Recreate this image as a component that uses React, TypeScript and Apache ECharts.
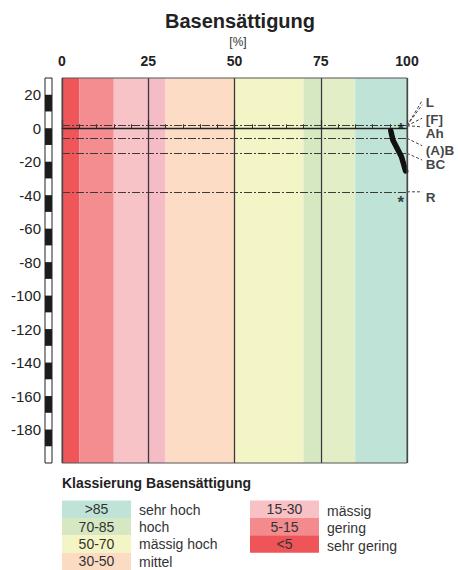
import React, { useEffect, useRef } from "react";
import * as echarts from "echarts";

const FONT = '"Liberation Sans", Arial, Helvetica, sans-serif';

// Saturation classes along the x axis (percent) and their fill colours
const bandFrom = [0, 5, 15, 25, 30, 50, 70, 75, 85];
const bandTo = [5, 15, 25, 30, 50, 70, 75, 85, 100];
const bandColors = [
  "#ee565a",
  "#f38d8f",
  "#f8c3c7",
  "#f6bcc6",
  "#fcdcc5",
  "#f4f5c6",
  "#d6e8c1",
  "#e2eec6",
  "#bfe3d7",
];

// Depth ruler: labelled ticks (cm); each one starts a black 10 cm segment
const depthTicks = [20, 0, -20, -40, -60, -80, -100, -120, -140, -160, -180];
const DEPTH_MIN = -200;
const DEPTH_MAX = 30;
const RULER_STEP = 10;

// Horizon boundaries (cm) and the soil surface
const boundaryDepths = [1.5, -6, -15, -38];
const surfaceDepth = 0;

// Base saturation profile
const profileSaturation = [95.3, 95.9, 98.4, 99.6];
const profileDepth = [-1.5, -7, -17, -25.5];

// Sample markers
const markerSaturation = [98.2, 98.2];
const markerDepth = [1.5, -42];

// Horizon names on the right
const horizonNames = ["L", "[F]", "Ah", "(A)B", "BC", "R"];
const horizonLabelDepth = [15.5, 5.2, -3, -13.4, -21.6, -41.5];
const LABEL_X = 105.3;

// Leader lines from the right edge (depth at x = 100) to the horizon names
const leaderFromDepth = [1.5, 1.5, 1.5, 1.5, -6, -15, -38];
const leaderToDepth = [16.5, 14, 6, 0.8, -10.5, -19, -38];
const LEADER_END_X = 104.4;

// Legend classes
const legendRanges = [">85", "70-85", "50-70", "30-50", "15-30", "5-15", "<5"];
const legendNames = ["sehr hoch", "hoch", "mässig hoch", "mittel", "mässig", "gering", "sehr gering"];
const legendColors = ["#bfe3d7", "#d5e8c1", "#f4f5c4", "#fcdbc3", "#f8c1c5", "#f38b8e", "#ee5458"];

function buildLegend() {
  const els: any[] = [];
  els.push({
    type: "text",
    x: 62,
    y: 483,
    style: {
      text: "Klassierung Basensättigung",
      font: `bold 14px ${FONT}`,
      fill: "#222",
      textVerticalAlign: "middle",
    },
  });
  legendRanges.forEach((r, i) => {
    const col = i < 4 ? 0 : 1;
    const row = col === 0 ? i : i - 4;
    const bx = col === 0 ? 62 : 250;
    const by = 500.5 + row * 17.4;
    els.push({
      type: "rect",
      shape: { x: bx, y: by, width: 69, height: 17.4 },
      style: { fill: legendColors[i] },
    });
    els.push({
      type: "text",
      x: bx + 34.5,
      y: by + 8.7,
      style: {
        text: r,
        font: `14px ${FONT}`,
        fill: "#333",
        textAlign: "center",
        textVerticalAlign: "middle",
      },
    });
    els.push({
      type: "text",
      x: bx + 77,
      y: by + 9 + (col === 1 ? 1.5 : 0),
      style: {
        text: legendNames[i],
        font: `14px ${FONT}`,
        fill: "#333",
        textVerticalAlign: "middle",
      },
    });
  });
  return els;
}

export default function App() {
  const ref = useRef<HTMLDivElement>(null);

  useEffect(() => {
    if (!ref.current) return;
    const chart = echarts.init(ref.current, undefined, { renderer: "svg" });

    const option: any = {
      animation: false,
      backgroundColor: "#ffffff",
      textStyle: { fontFamily: FONT },
      grid: [
        {
          left: 62,
          top: 78,
          width: 345,
          height: 385,
          show: true,
          backgroundColor: "transparent",
          borderColor: "#555",
          borderWidth: 1,
          z: 10,
        },
        {
          left: 45,
          top: 78,
          width: 7,
          height: 385,
          show: true,
          backgroundColor: "transparent",
          borderColor: "#222",
          borderWidth: 1,
          z: 10,
        },
      ],
      xAxis: [
        {
          type: "value",
          gridIndex: 0,
          position: "top",
          min: 0,
          max: 100,
          interval: 25,
          z: 3,
          axisLine: { show: true, lineStyle: { color: "#222", width: 1.2 } },
          axisTick: { show: true, length: 8, lineStyle: { color: "#222", width: 1.2 } },
          minorTick: { show: true, splitNumber: 5, length: 4, lineStyle: { color: "#333", width: 1 } },
          splitLine: { show: true, lineStyle: { color: "#3a3a3a", width: 1.3 } },
          axisLabel: {
            margin: 10,
            fontSize: 14,
            fontWeight: "bold",
            color: "#222",
            fontFamily: FONT,
          },
        },
        {
          type: "value",
          gridIndex: 1,
          min: 0,
          max: 1,
          show: false,
        },
      ],
      yAxis: [
        {
          type: "value",
          gridIndex: 0,
          min: DEPTH_MIN,
          max: DEPTH_MAX,
          axisLine: { show: false },
          axisTick: { show: false },
          axisLabel: { show: false },
          splitLine: { show: false },
        },
        {
          type: "value",
          gridIndex: 1,
          min: DEPTH_MIN,
          max: DEPTH_MAX,
          interval: 20,
          axisLine: { show: false },
          axisTick: { show: false },
          splitLine: { show: false },
          axisLabel: {
            margin: 4,
            fontSize: 15,
            color: "#222",
            fontFamily: FONT,
            formatter: (v: number) => (depthTicks.includes(v) ? String(v) : ""),
          },
        },
      ],
      graphic: [
        {
          type: "text",
          x: 240,
          y: 21,
          style: {
            text: "Basensättigung",
            font: `bold 20px ${FONT}`,
            fill: "#222",
            textAlign: "center",
            textVerticalAlign: "middle",
          },
        },
        {
          type: "text",
          x: 238,
          y: 41.5,
          style: {
            text: "[%]",
            font: `12px ${FONT}`,
            fill: "#333",
            textAlign: "center",
            textVerticalAlign: "middle",
          },
        },
        ...buildLegend(),
      ],
      series: [
        {
          type: "custom",
          name: "bands",
          xAxisIndex: 0,
          yAxisIndex: 0,
          z: 1,
          silent: true,
          data: bandFrom.map((f, i) => [f, bandTo[i]]),
          renderItem: (params: any, api: any) => {
            const p0 = api.coord([api.value(0), DEPTH_MAX]);
            const p1 = api.coord([api.value(1), DEPTH_MIN]);
            return {
              type: "rect",
              shape: { x: p0[0], y: p0[1], width: p1[0] - p0[0], height: p1[1] - p0[1] },
              style: { fill: bandColors[params.dataIndex], stroke: null },
            };
          },
        },
        {
          type: "custom",
          name: "ruler",
          xAxisIndex: 1,
          yAxisIndex: 1,
          z: 1,
          silent: true,
          data: depthTicks.map((t) => [0, t]),
          renderItem: (params: any, api: any) => {
            const top = api.value(1);
            const p0 = api.coord([0, top]);
            const p1 = api.coord([1, top - RULER_STEP]);
            return {
              type: "rect",
              shape: { x: p0[0], y: p0[1], width: p1[0] - p0[0], height: p1[1] - p0[1] },
              style: { fill: "#1c1c1c" },
            };
          },
        },
        {
          type: "line",
          name: "boundaries",
          xAxisIndex: 0,
          yAxisIndex: 0,
          z: 4,
          symbol: "none",
          silent: true,
          lineStyle: { width: 0 },
          data: [[0, surfaceDepth]],
          markLine: {
            silent: true,
            symbol: "none",
            label: { show: false },
            data: [
              ...boundaryDepths.map((d) => ({
                yAxis: d,
                lineStyle: { color: "#3a3a3a", width: 1, type: [8, 2, 2, 2] },
              })),
              { yAxis: surfaceDepth, lineStyle: { color: "#222", width: 1.4, type: "solid" } },
            ],
          },
        },
        {
          type: "custom",
          name: "leaders",
          xAxisIndex: 0,
          yAxisIndex: 0,
          z: 4,
          silent: true,
          data: leaderFromDepth.map((f, i) => [f, leaderToDepth[i]]),
          renderItem: (params: any, api: any) => {
            const a = api.coord([100, api.value(0)]);
            const b = api.coord([LEADER_END_X, api.value(1)]);
            return {
              type: "line",
              shape: { x1: a[0], y1: a[1], x2: b[0], y2: b[1] },
              style: { stroke: "#444", lineWidth: 1, lineDash: [3, 2] },
            };
          },
        },
        {
          type: "line",
          name: "profile",
          xAxisIndex: 0,
          yAxisIndex: 0,
          z: 6,
          clip: false,
          symbol: "none",
          lineStyle: { color: "#111", width: 5.5, cap: "round", join: "round" },
          data: profileSaturation.map((s, i) => [s, profileDepth[i]]),
        },
        {
          type: "scatter",
          name: "markers",
          xAxisIndex: 0,
          yAxisIndex: 0,
          z: 6,
          symbolSize: 1,
          itemStyle: { color: "rgba(0,0,0,0)" },
          label: {
            show: true,
            position: "inside",
            formatter: "*",
            fontSize: 17,
            fontWeight: "bold",
            color: "#111",
            offset: [0, 4],
          },
          data: markerSaturation.map((s, i) => [s, markerDepth[i]]),
        },
        {
          type: "scatter",
          name: "horizons",
          xAxisIndex: 0,
          yAxisIndex: 0,
          z: 6,
          clip: false,
          symbolSize: 1,
          itemStyle: { color: "rgba(0,0,0,0)" },
          label: {
            show: true,
            position: "right",
            distance: 0,
            formatter: (p: any) => horizonNames[p.dataIndex],
            fontSize: 13.5,
            lineHeight: 11,
            fontWeight: "bold",
            color: "#111",
            fontFamily: FONT,
          },
          data: horizonLabelDepth.map((d) => [LABEL_X, d]),
        },
      ],
    };

    chart.setOption(option);
    return () => chart.dispose();
  }, []);

  return (
    <div
      ref={ref}
      style={{ position: "absolute", left: 0, top: 0, width: 458, height: 570, background: "#fff" }}
    />
  );
}
